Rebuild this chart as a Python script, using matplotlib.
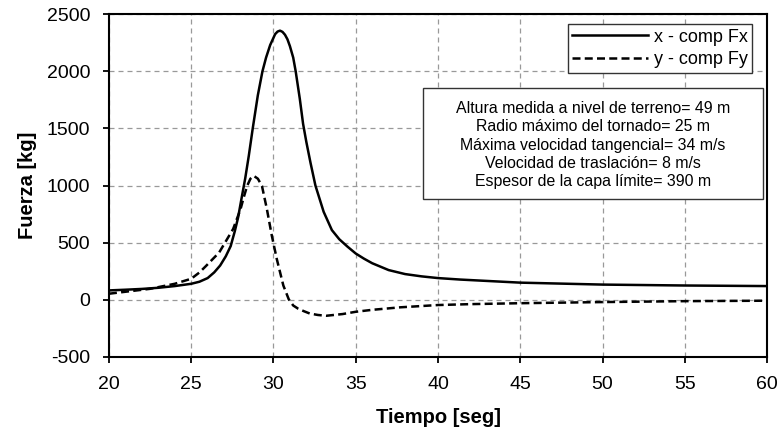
import matplotlib.pyplot as plt
from matplotlib.patches import Rectangle

plt.rcParams['font.family'] = ['Liberation Sans', 'DejaVu Sans']
plt.rcParams['axes.unicode_minus'] = False

# tiempo [seg] y componentes de fuerza [kg]
t_fx = [20, 21, 22, 23, 24, 25, 25.5, 26, 26.4, 26.76, 27.1, 27.4, 27.65, 27.85, 28.05,
        28.28, 28.5, 28.74, 29.05, 29.33, 29.55, 29.8, 30.1, 30.25, 30.4, 30.55, 30.7,
        30.85, 31.0, 31.2, 31.35, 31.6, 31.8, 32.0, 32.25, 32.55, 33.05, 33.55, 34.0,
        34.5, 35, 35.5, 36, 37, 38, 39, 40, 41.35, 45, 50, 55, 60]
fx = [82, 88, 95, 105, 120, 140, 158, 190, 240, 300, 380, 470, 600, 720, 880,
      1060, 1260, 1500, 1790, 2000, 2120, 2230, 2325, 2348, 2356, 2345, 2320,
      2280, 2220, 2120, 2000, 1760, 1540, 1380, 1200, 1000, 770, 610, 530,
      465, 405, 360, 320, 260, 225, 205, 190, 177, 150, 133, 125, 120]

t_fy = [20, 22.5, 24, 25, 25.5, 25.9, 26.7, 27.55, 28.0, 28.2, 28.4, 28.6, 28.8, 29.05,
        29.3, 29.6, 29.9, 30.2, 30.6, 30.93, 31.2, 31.5, 31.85, 32.2, 32.7, 33.2, 34.2,
        35, 36, 37.7, 40, 42, 45, 50, 55, 60]
fy = [53, 96, 140, 184, 239, 296, 414, 620, 794, 900, 997, 1060, 1085, 1060,
      997, 794, 561, 358, 125, 4, -50, -78, -100, -120, -133, -140, -125,
      -105, -88, -66, -46, -38, -30, -20, -12, -8]

info = ("Altura medida a nivel de terreno= 49 m\n"
        "Radio máximo del tornado= 25 m\n"
        "Máxima velocidad tangencial= 34 m/s\n"
        "Velocidad de traslación= 8 m/s\n"
        "Espesor de la capa límite= 390 m")

fig = plt.figure(figsize=(7.78, 4.30), dpi=100)
ax = fig.add_axes([0.140, 0.170, 0.846, 0.797])

ax.plot(t_fx, fx, color="black", lw=1.8, label="x - comp Fx")
ax.plot(t_fy, fy, color="black", lw=1.8, linestyle=(0, (3.2, 1.7)), label="y - comp Fy")

ax.set_xlim(20, 60)
ax.set_ylim(-500, 2500)
ax.set_xticks(range(20, 61, 5))
ax.set_yticks(range(-500, 2501, 500))
ax.grid(True, color="#999999", linestyle=(0, (4, 3.2)), lw=0.9)
ax.tick_params(labelsize=14, direction="out", length=4.5, width=1.3, pad=9)
for s in ax.spines.values():
    s.set_linewidth(1.5)

ax.set_xlabel("Tiempo [seg]", fontsize=14.5, fontweight="bold", labelpad=11)
ax.set_ylabel("Fuerza [kg]", fontsize=14.5, fontweight="bold", labelpad=7)

leg = ax.legend(loc="upper right", bbox_to_anchor=(0.977, 0.971), borderaxespad=0,
                fontsize=13, handlelength=4.2, handletextpad=0.3, borderpad=0.25,
                labelspacing=0.3, fancybox=False, framealpha=1, edgecolor="#333333")
leg.get_frame().set_linewidth(1.0)

ax.add_patch(Rectangle((0.477, 0.461), 0.517, 0.323, transform=ax.transAxes,
                       facecolor="white", edgecolor="#333333", lw=1.0, zorder=4))
ax.text(0.7356, 0.618, info, transform=ax.transAxes, ha="center", va="center",
        fontsize=11.4, linespacing=1.28, zorder=5)

plt.savefig("out.png", dpi=100)
